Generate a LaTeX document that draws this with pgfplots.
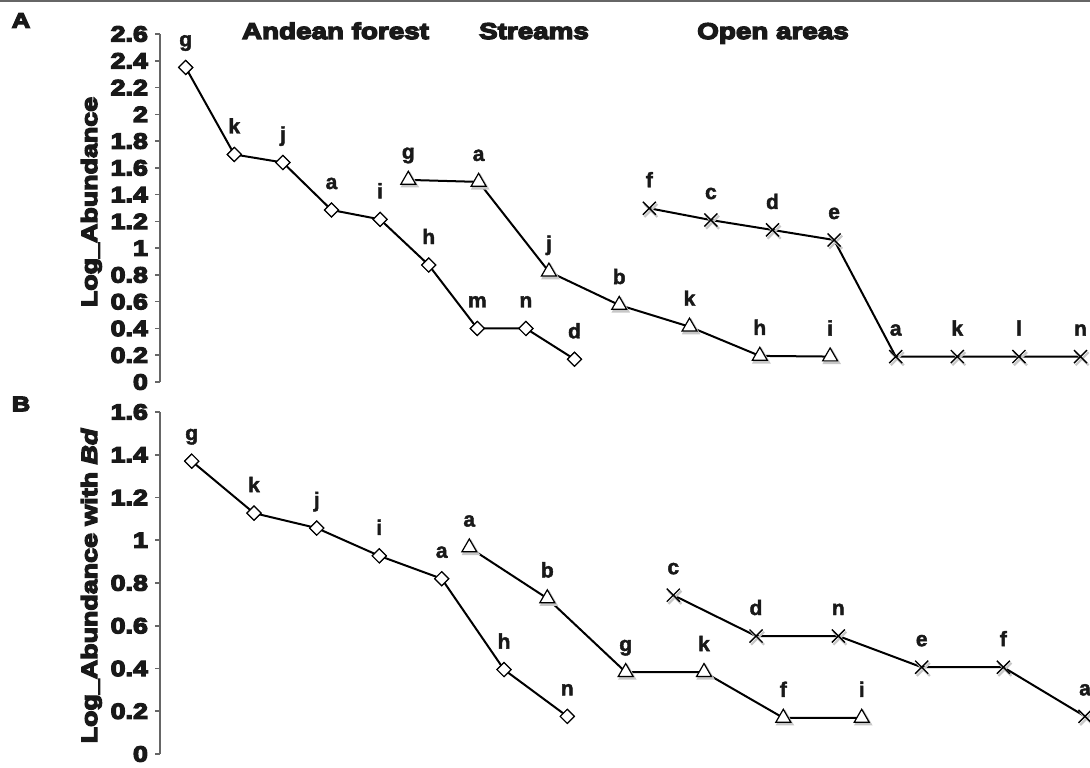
\documentclass[border=0pt]{standalone}
\usepackage{fontspec}
\setmainfont{Liberation Sans}
\newfontface\heavy{Liberation Sans Bold}[RawFeature={embolden=6},FakeStretch=1.22]
\newfontface\heavyit{Liberation Sans Bold Italic}[RawFeature={embolden=6},FakeStretch=1.22]
\newfontface\lab{Liberation Sans Bold}[RawFeature={embolden=2}]
\usepackage{pgfplots}
\pgfplotsset{compat=1.18}

% panel A: x is the horizontal offset from the y axis (pixels of the original figure)
\pgfplotstableread{
x y lab
25.7 2.35 g
74.3 1.70 k
122.9 1.64 j
171.5 1.285 a
220.1 1.215 i
268.7 0.874 h
317.3 0.40 m
365.9 0.40 n
414.5 0.17 d
}\forestA
\pgfplotstableread{
x y lab
248.3 1.51 g
318.6 1.495 a
388.9 0.824 j
459.2 0.575 b
529.5 0.413 k
599.8 0.195 h
670.1 0.19 i
}\streamsA
\pgfplotstableread{
x y lab
489.3 1.298 f
550.9 1.21 c
612.5 1.136 d
674.1 1.061 e
735.7 0.19 a
797.3 0.19 k
858.9 0.19 l
920.5 0.19 n
}\openA

% panel B
\pgfplotstableread{
x y lab
31.7 1.37 g
94.0 1.127 k
156.7 1.057 j
219.3 0.927 i
281.7 0.82 a
344.0 0.395 h
407.3 0.176 n
}\forestB
\pgfplotstableread{
x y lab
309.3 0.966 a
387.3 0.728 b
465.7 0.383 g
544.0 0.383 k
623.3 0.169 f
701.7 0.169 i
}\streamsB
\pgfplotstableread{
x y lab
513.3 0.743 c
596.0 0.552 d
678.3 0.552 n
761.7 0.406 e
843.3 0.406 f
925.0 0.176 a
}\openB

\pgfplotsset{
  panel/.style={
    scale only axis, width=465pt,
    xmin=0, xmax=930, ymin=0,
    axis x line=none, axis y line=left,
    y axis line style={-},
    clip=false,
    tick align=outside, major tick length=2.5pt,
    axis line style={black!60, line width=0.8pt},
    every tick/.style={black!60, line width=0.8pt},
    /pgf/number format/assume math mode=true,
    yticklabel style={font=\heavy\fontsize{11}{12}\selectfont, text=black!90},
    point meta=explicit symbolic,
    every node near coord/.append style={font=\lab\fontsize{10.5}{11}\selectfont,
      anchor=base, yshift=10.5pt, text=black!90},
  },
  ser/.style={black, line width=1pt, nodes near coords},
  shd/.style={only marks, mark options={solid, black!22, fill=black!22, line width=1.1pt,
    xshift=0.8pt, yshift=-1.1pt}},
  dia/.style={ser, mark=square*, mark size=2.5pt,
    mark options={solid, rotate=45, line width=0.6pt, draw=black, fill=white}},
  tri/.style={ser, mark=triangle*, mark size=4.3pt,
    mark options={solid, line width=0.6pt, draw=black, fill=white}},
  crs/.style={ser, mark=x, mark size=4.6pt,
    mark options={solid, line width=0.7pt, draw=black}},
  diash/.style={shd, mark=square*, mark size=2.5pt, mark options={rotate=45}},
  trish/.style={shd, mark=triangle*, mark size=4.3pt},
  crssh/.style={shd, mark=x, mark size=4.6pt},
}

\begin{document}
\begin{tikzpicture}
\useasboundingbox (0,0) rectangle (545pt,383.5pt);
\draw[black!60, line width=1.2pt] (0,383pt) -- (545pt,383pt);

\begin{axis}[panel, at={(80pt,192.5pt)}, anchor=south west, height=174pt, ymax=2.6,
  ytick={0,0.2,0.4,0.6,0.8,1,1.2,1.4,1.6,1.8,2,2.2,2.4,2.6}]
  \addplot[diash] table[x=x, y=y] {\forestA};
  \addplot[trish] table[x=x, y=y] {\streamsA};
  \addplot[crssh] table[x=x, y=y] {\openA};
  \addplot[dia] table[x=x, y=y, meta=lab] {\forestA};
  \addplot[tri] table[x=x, y=y, meta=lab] {\streamsA};
  \addplot[crs] table[x=x, y=y, meta=lab] {\openA};
\end{axis}

\begin{axis}[panel, at={(80pt,6.5pt)}, anchor=south west, height=171pt, ymax=1.6,
  ytick={0,0.2,0.4,0.6,0.8,1,1.2,1.4,1.6}]
  \addplot[diash] table[x=x, y=y] {\forestB};
  \addplot[trish] table[x=x, y=y] {\streamsB};
  \addplot[crssh] table[x=x, y=y] {\openB};
  \addplot[dia] table[x=x, y=y, meta=lab] {\forestB};
  \addplot[tri] table[x=x, y=y, meta=lab] {\streamsB};
  \addplot[crs] table[x=x, y=y, meta=lab] {\openB};
\end{axis}

\begin{scope}[every node/.style={font=\heavy\fontsize{11.4}{12}\selectfont, text=black!90, anchor=base}]
  \node at (167.75pt,364pt) {Andean forest};
  \node at (267pt,364pt) {Streams};
  \node at (386.5pt,364pt) {Open areas};
\end{scope}

\node[font=\heavy\fontsize{10.5}{12}\selectfont, text=black!90] at (10.5pt,373.25pt) {A};
\node[font=\heavy\fontsize{10.5}{12}\selectfont, text=black!90] at (10.5pt,181.5pt) {B};

\node[font=\heavy\fontsize{11}{12}\selectfont, text=black!90, rotate=90, anchor=base]
  at (48.5pt,282.5pt) {Log\_Abundance};
\node[font=\heavy\fontsize{11}{12}\selectfont, text=black!90, rotate=90, anchor=base]
  at (48.5pt,90.5pt) {Log\_Abundance with {\heavyit Bd}};
\end{tikzpicture}
\end{document}
